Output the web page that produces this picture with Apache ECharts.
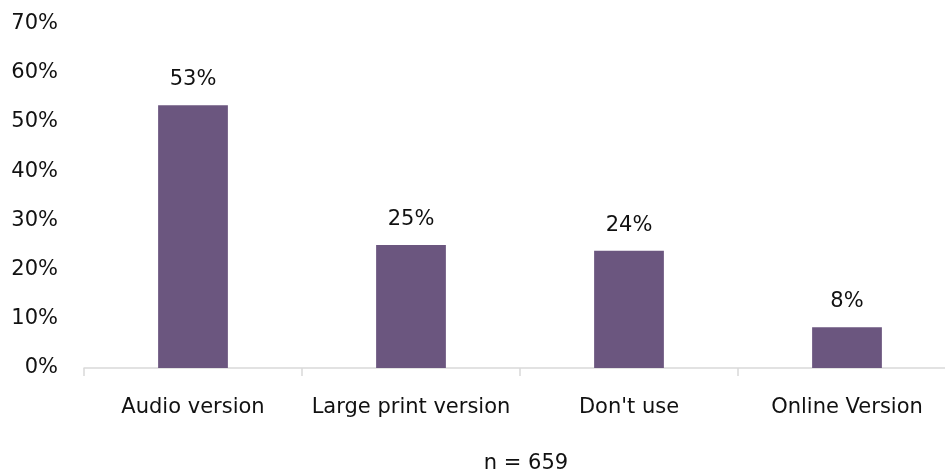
<!DOCTYPE html>
<html>
<head>
<meta charset="utf-8">
<script src="https://cdn.jsdelivr.net/npm/echarts@6/dist/echarts.min.js"></script>
<style>html,body{margin:0;padding:0;background:#fff}#c{width:945px;height:475px}</style>
</head>
<body>
<div id="c"></div>
<script>
var categories = ["Audio version", "Large print version", "Don't use", "Online Version"];
var values = [53.4, 25.0, 23.8, 8.3];
var valueLabels = ["53%", "25%", "24%", "8%"];
var yTicks = [0, 10, 20, 30, 40, 50, 60, 70];
var note = "n = 659";

var FONT = "'Comic Sans MS', 'DejaVu Sans', sans-serif";
var FS = 21;
var chart = echarts.init(document.getElementById('c'), null, {renderer: 'canvas'});
chart.setOption({
  animation: false,
  backgroundColor: '#ffffff',
  title: {
    text: note,
    left: 521, top: 448,
    textAlign: 'center',
    textStyle: {fontFamily: FONT, fontSize: FS, fontWeight: 'normal', color: '#111'}
  },
  grid: {left: 84, width: 872, top: 23.5, height: 344.5, containLabel: false, outerBoundsMode: 'none'},
  xAxis: {
    type: 'category',
    data: categories,
    axisLine: {lineStyle: {color: '#d9d9d9', width: 1.5}},
    axisTick: {show: true, length: 8, lineStyle: {color: '#d9d9d9', width: 1.5}},
    axisLabel: {fontFamily: FONT, fontSize: FS, color: '#111', margin: 29, interval: 0}
  },
  yAxis: {
    type: 'value',
    min: yTicks[0], max: yTicks[yTicks.length - 1], interval: 10,
    axisLine: {show: false},
    axisTick: {show: false},
    splitLine: {show: false},
    axisLabel: {fontFamily: FONT, fontSize: FS, color: '#111', margin: 26,
      formatter: function (v) { return v + '%'; }}
  },
  series: [{
    type: 'bar',
    data: values,
    barWidth: '32%',
    itemStyle: {color: '#6b567f'},
    label: {
      show: true, position: 'top', distance: 15,
      fontFamily: FONT, fontSize: FS, color: '#111',
      formatter: function (p) { return valueLabels[p.dataIndex]; }
    }
  }]
});
</script>
</body>
</html>
